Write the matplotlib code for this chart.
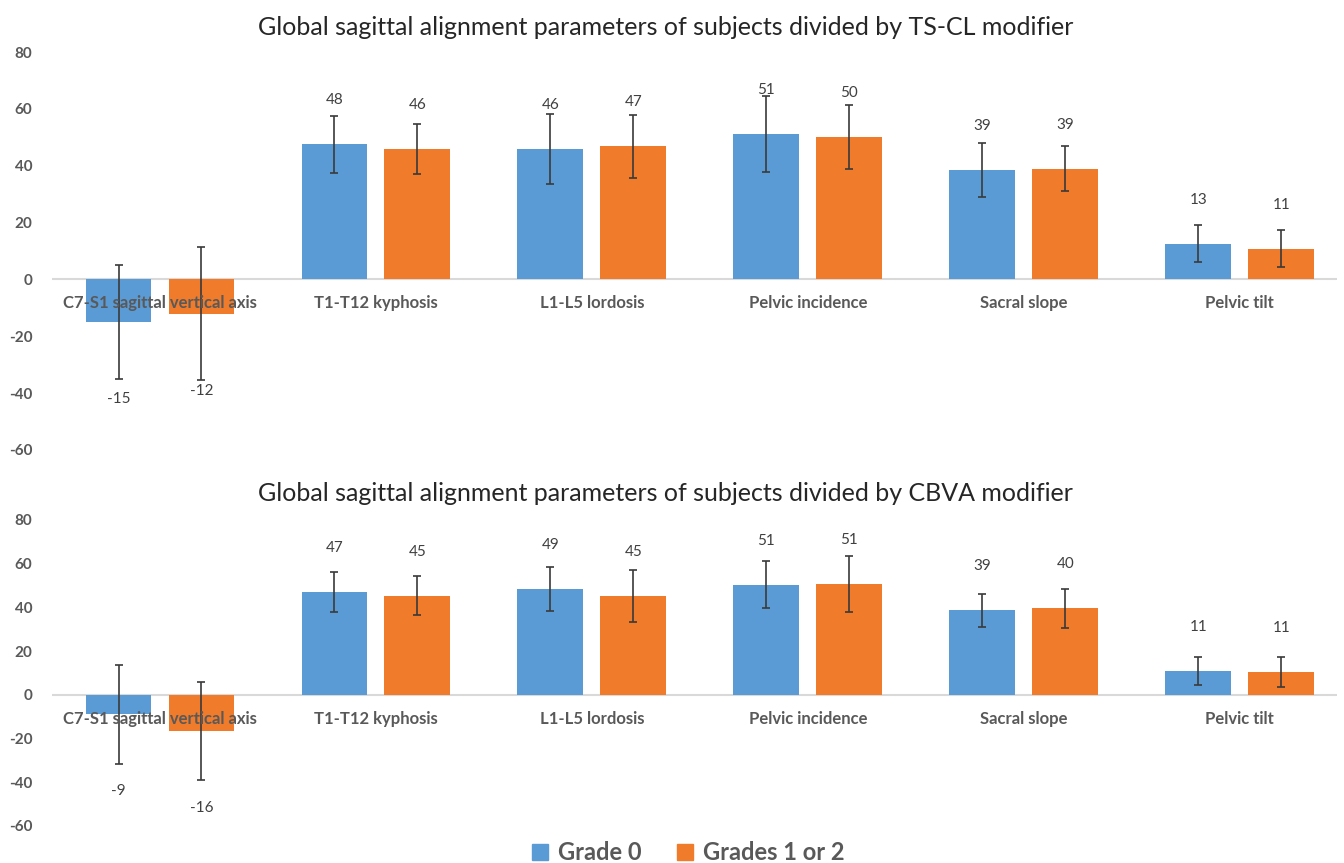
import numpy as np
import matplotlib
matplotlib.use("Agg")
import matplotlib.pyplot as plt
from matplotlib.patches import Patch

plt.rcParams['font.family'] = ['Lato', 'DejaVu Sans']

categories = ["C7-S1 sagittal vertical axis", "T1-T12 kyphosis", "L1-L5 lordosis",
              "Pelvic incidence", "Sacral slope", "Pelvic tilt"]

# TS-CL modifier panel
tscl_g0 = [-15, 47.5, 46, 51.2, 38.5, 12.6]
tscl_g0_sd = [20, 10, 12.3, 13.3, 9.4, 6.6]
tscl_g0_lab = [-15, 48, 46, 51, 39, 13]
tscl_g12 = [-12, 46, 46.8, 50, 39, 10.8]
tscl_g12_sd = [23.5, 8.8, 11, 11.2, 8, 6.6]
tscl_g12_lab = [-12, 46, 47, 50, 39, 11]

# CBVA modifier panel
cbva_g0 = [-9, 47, 48.5, 50.4, 38.6, 11]
cbva_g0_sd = [22.8, 9.1, 10.2, 10.7, 7.5, 6.3]
cbva_g0_lab = [-9, 47, 49, 51, 39, 11]
cbva_g12 = [-16.5, 45.4, 45.2, 50.7, 39.5, 10.4]
cbva_g12_sd = [22.5, 9.1, 11.9, 12.6, 9.1, 6.8]
cbva_g12_lab = [-16, 45, 45, 51, 40, 11]

yticks = [-60, -40, -20, 0, 20, 40, 60, 80]

blue = '#5b9bd5'
orange = '#f07b2a'
grey_txt = '#595959'

fig = plt.figure(figsize=(13.44, 8.63), dpi=100)

x = np.arange(len(categories))
w = 0.305
off = 0.192


def panel(ax, g0, g0sd, g0lab, g12, g12sd, g12lab):
    ax.bar(x - off, g0, w, color=blue, zorder=2)
    ax.bar(x + off, g12, w, color=orange, zorder=2)
    ax.errorbar(x - off, g0, yerr=g0sd, fmt='none', ecolor='#3a3a3a',
                elinewidth=1.2, capsize=3, capthick=1.2, zorder=3)
    ax.errorbar(x + off, g12, yerr=g12sd, fmt='none', ecolor='#3a3a3a',
                elinewidth=1.2, capsize=3, capthick=1.2, zorder=3)
    for xs, vals, labs in [(x - off, g0, g0lab), (x + off, g12, g12lab)]:
        for xi, v, lab in zip(xs, vals, labs):
            dy = 44 if v >= 0 else -77
            ax.annotate(str(lab), (xi, v), xytext=(0, dy), textcoords='offset pixels',
                        ha='center', va='center', fontsize=11, color='#404040')
    ax.axhline(0, color='#d9d9d9', lw=1.5, zorder=1)
    for xi, c in zip(x, categories):
        ax.annotate(c, (xi, 0), xytext=(0, -24), textcoords='offset pixels',
                    ha='center', va='center', fontsize=12, fontweight='bold',
                    color=grey_txt, zorder=5)
    ax.set_ylim(-60, 80)
    ax.set_xlim(-0.5, 5.45)
    ax.set_yticks(yticks)
    ax.set_yticklabels([str(t) for t in yticks], fontsize=11, fontweight='bold', color=grey_txt)
    ax.set_xticks([])
    ax.tick_params(axis='y', length=0, pad=14)
    for s in ax.spines.values():
        s.set_visible(False)


ax1 = fig.add_axes([0.0387, 0.4786, 0.956, 0.4611])
panel(ax1, tscl_g0, tscl_g0_sd, tscl_g0_lab, tscl_g12, tscl_g12_sd, tscl_g12_lab)

ax2 = fig.add_axes([0.0387, 0.0429, 0.956, 0.3546])
panel(ax2, cbva_g0, cbva_g0_sd, cbva_g0_lab, cbva_g12, cbva_g12_sd, cbva_g12_lab)

fig.text(0.495, 0.9676, "Global sagittal alignment parameters of subjects divided by TS-CL modifier",
         ha='center', va='center', fontsize=18, color='#262626')
fig.text(0.495, 0.4287, "Global sagittal alignment parameters of subjects divided by CBVA modifier",
         ha='center', va='center', fontsize=18, color='#262626')

handles = [Patch(color=blue, label='Grade 0'), Patch(color=orange, label='Grades 1 or 2')]
leg = fig.legend(handles=handles, loc='center', bbox_to_anchor=(0.512, 0.012), ncol=2,
                 frameon=False, prop={'size': 17, 'weight': 'bold'}, handlelength=0.7,
                 handleheight=0.7, handletextpad=0.4, columnspacing=1.5)
for t in leg.get_texts():
    t.set_color(grey_txt)

plt.savefig('out.png', dpi=100)
